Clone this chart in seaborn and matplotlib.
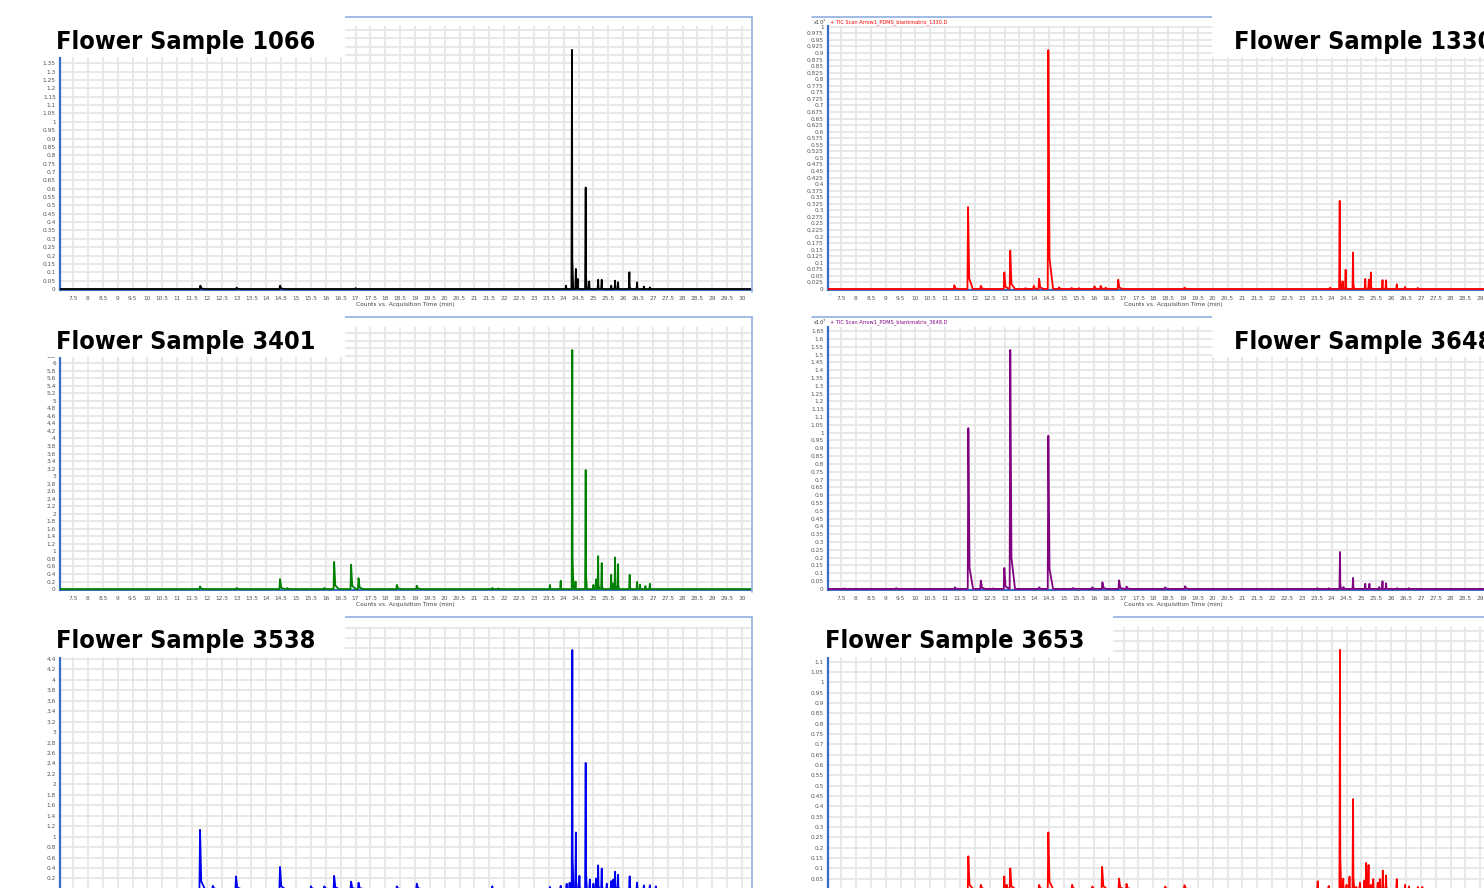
import matplotlib
matplotlib.use("Agg")
import numpy as np
import pandas as pd
import matplotlib.pyplot as plt
from matplotlib import font_manager as fm
from matplotlib.lines import Line2D
from matplotlib.patches import Rectangle
import seaborn as sns

sns.set_style("white")
plt.rcParams["font.family"] = ["DejaVu Sans"]

W, H = 1484, 888
XMIN, XMAX = 7.06, 30.3

# peak retention times (min) and heights (x10^7 counts)
rt_1066 = [11.78, 13.0, 14.46, 17.0, 24.08, 24.28, 24.41, 24.47, 24.74, 24.86,
           25.16, 25.28, 25.6, 25.73, 25.83, 26.21, 26.47, 26.7, 26.9]
ht_1066 = [0.02, 0.008, 0.02, 0.005, 0.02, 1.43, 0.12, 0.06, 0.607, 0.045,
           0.055, 0.055, 0.02, 0.05, 0.04, 0.10, 0.04, 0.015, 0.01]

rt_3401 = [11.77, 13.0, 14.46, 14.7, 15.95, 16.28, 16.85, 17.1, 18.39, 19.06,
           21.6, 21.8, 23.54, 23.9, 24.29, 24.4, 24.74, 25.0, 25.09, 25.16,
           25.28, 25.6, 25.66, 25.73, 25.83, 26.22, 26.47, 26.57, 26.75, 26.9]
ht_3401 = [0.07, 0.03, 0.265, 0.03, 0.03, 0.72, 0.645, 0.29, 0.11, 0.09,
           0.03, 0.02, 0.11, 0.22, 6.35, 0.2, 3.16, 0.11, 0.26, 0.875,
           0.69, 0.38, 0.15, 0.84, 0.66, 0.38, 0.19, 0.12, 0.08, 0.14]

rt_3538 = [11.77, 12.2, 12.98, 14.46, 15.5, 15.95, 16.28, 16.85, 17.1, 18.39,
           19.06, 21.6, 23.54, 23.9, 24.1, 24.2, 24.29, 24.41, 24.53, 24.74,
           24.88, 25.0, 25.09, 25.16, 25.28, 25.45, 25.6, 25.67, 25.73, 25.83,
           26.22, 26.47, 26.7, 26.9, 27.1]
ht_3538 = [1.13, 0.06, 0.24, 0.42, 0.05, 0.05, 0.25, 0.14, 0.12, 0.05,
           0.1, 0.05, 0.04, 0.06, 0.1, 0.12, 4.57, 1.08, 0.25, 2.41,
           0.18, 0.1, 0.2, 0.45, 0.39, 0.1, 0.15, 0.18, 0.33, 0.27,
           0.24, 0.12, 0.07, 0.07, 0.05]

rt_1330 = [11.31, 11.77, 12.2, 12.99, 13.19, 13.7, 13.98, 14.16, 14.47, 14.83,
           15.25, 15.5, 16.02, 16.23, 16.4, 16.82, 19.05, 23.95, 24.27, 24.37,
           24.47, 24.72, 25.13, 25.25, 25.32, 25.71, 25.83, 26.19, 26.47, 26.9]
ht_1330 = [0.014, 0.312, 0.012, 0.063, 0.146, 0.003, 0.012, 0.039, 0.911, 0.006,
           0.004, 0.003, 0.01, 0.012, 0.005, 0.035, 0.005, 0.005, 0.336, 0.029,
           0.073, 0.139, 0.038, 0.035, 0.063, 0.034, 0.033, 0.018, 0.008, 0.004]

rt_3648 = [7.6, 9.35, 11.33, 11.78, 12.2, 12.6, 12.99, 13.19, 14.16, 14.47,
           15.3, 15.95, 16.29, 16.85, 17.1, 18.4, 19.07, 23.52, 23.9, 24.28,
           24.4, 24.72, 25.13, 25.27, 25.6, 25.71, 25.83, 26.2, 26.6]
ht_3648 = [0.003, 0.005, 0.01, 1.029, 0.053, 0.003, 0.134, 1.529, 0.01, 0.98,
           0.006, 0.01, 0.042, 0.055, 0.015, 0.01, 0.017, 0.005, 0.005, 0.236,
           0.012, 0.07, 0.033, 0.033, 0.012, 0.049, 0.036, 0.005, 0.005]

rt_3653 = [11.78, 12.2, 12.99, 13.07, 13.19, 14.16, 14.47, 15.27, 15.95, 16.28,
           16.85, 17.1, 18.4, 19.05, 23.53, 23.9, 24.28, 24.39, 24.5, 24.6,
           24.72, 24.83, 24.95, 25.1, 25.16, 25.24, 25.32, 25.4, 25.55, 25.62,
           25.72, 25.83, 26.19, 26.47, 26.6, 26.9, 27.05]
ht_3653 = [0.158, 0.02, 0.061, 0.02, 0.1, 0.02, 0.274, 0.02, 0.012, 0.107,
           0.05, 0.025, 0.012, 0.018, 0.037, 0.015, 1.157, 0.05, 0.02, 0.06,
           0.435, 0.01, 0.03, 0.04, 0.126, 0.116, 0.02, 0.048, 0.03, 0.048,
           0.089, 0.065, 0.048, 0.02, 0.012, 0.01, 0.01]

# name, times, heights, colour, column, row, y-limits, y tick step
panels = [
    ("1066", rt_1066, ht_1066, "#000000", 0, 0, (-0.006, 1.573), 0.05),
    ("3401", rt_3401, ht_3401, "#008000", 0, 1, (-0.025, 6.96), 0.2),
    ("3538", rt_3538, ht_3538, "#0000ee", 0, 2, (-0.02, 5.01), 0.2),
    ("1330", rt_1330, ht_1330, "#ff0000", 1, 0, (-0.004, 1.003), 0.025),
    ("3648", rt_3648, ht_3648, "#800080", 1, 1, (-0.007, 1.676), 0.05),
    ("3653", rt_3653, ht_3653, "#ff0000", 1, 2, (-0.005, 1.268), 0.05),
]

# pixel geometry of the screenshot
cols = [(60, 751, 58, 752), (828, 1519, 812, 1484)]       # axes l, r, frame l, r
rows = [(17, 26, 290), (317.5, 327, 590), (616.7, 627, 890)]  # frame top, axes top, bottom
FRAME = "#8fb0e0"
SPINE = "#3a6cc0"
TITLE_W = 258  # px width of "Flower Sample NNNN"


def fig_box(l, t, r, b):
    return [l / W, 1 - b / H, (r - l) / W, (b - t) / H]


def peak_trace(rts, hts, rise=0.02, early_tail=0.16, late_tail=0.04, knee=0.13):
    pk = sorted(zip(rts, hts))
    xs, ys = [XMIN], [0.0]
    for i, (t, h) in enumerate(pk):
        tail = early_tail if t < 20 else late_tail
        if i + 1 < len(pk):
            tail = max(0.02, min(tail, pk[i + 1][0] - t - rise))
        xs += [t - rise, t, t + tail * 0.25, t + tail]
        ys += [0.0, h, h * knee, 0.0]
    xs.append(XMAX)
    ys.append(0.0)
    return pd.DataFrame({"time": xs, "counts": ys})


def title_font():
    # look for an installed condensed / narrow bold face
    best, best_score = None, 0
    for f in fm.fontManager.ttflist:
        nm, fn = f.name.lower(), f.fname.lower()
        narrow = ("condensed" in nm or "narrow" in nm or "condensed" in fn
                  or "narrow" in fn or str(f.stretch) in
                  ("condensed", "semi-condensed", "extra-condensed", "ultra-condensed"))
        if not narrow or "semi" in fn or "semi" in str(f.stretch):
            continue
        w = f.weight if isinstance(f.weight, int) else {"bold": 700, "heavy": 800,
                                                        "black": 900}.get(f.weight, 400)
        if "italic" in fn or f.style != "normal":
            continue
        score = 1 + (w >= 700) * 4 + (w == 700) + ("extra" not in fn)
        if score > best_score:
            best, best_score = f, score
    if best is None:
        return fm.FontProperties(family="DejaVu Sans", weight="bold")
    return fm.FontProperties(fname=best.fname)


fig = plt.figure(figsize=(W / 100, H / 100), dpi=100)
renderer = fig.canvas.get_renderer()
tfont = title_font()

for name, rts, hts, color, c, r, ylim, ystep in panels:
    al, ar, fl, fr = cols[c]
    ftop, atop, abot = rows[r]
    ax = fig.add_axes(fig_box(al, atop, ar, abot))

    df = peak_trace(rts, hts)
    sns.lineplot(data=df, x="time", y="counts", ax=ax, color=color, lw=1.3,
                 estimator=None, sort=False, zorder=3)

    ax.set_xlim(XMIN, XMAX)
    ax.set_ylim(*ylim)
    xt = np.arange(7.5, 30.01, 0.5)
    ax.set_xticks(xt)
    yt = np.round(np.arange(0, ylim[1], ystep), 3)
    ax.set_yticks(yt)
    ax.set_yticklabels([f"{v:g}" for v in yt])
    ax.grid(True, color="#e6e6e6", lw=1.3)
    ax.set_axisbelow(True)
    ax.tick_params(axis="both", labelsize=4.2, length=2, width=0.6, pad=1,
                   colors="#555555", direction="out")
    ax.tick_params(axis="x", pad=2)
    ax.set_ylabel("")
    if r < 2:
        ax.set_xticklabels([f"{v:g}" for v in xt])
        ax.set_xlabel("Counts vs. Acquisition Time (min)", fontsize=4.2,
                      color="#444444", labelpad=1)
    else:
        # bottom row is cut at the baseline in the screenshot
        ax.set_xticklabels([])
        ax.set_xlabel("")
        ax.set_yticklabels([""] + [f"{v:g}" for v in yt[1:]])
    for s in ("top", "right"):
        ax.spines[s].set_visible(False)
    ax.spines["left"].set_color(SPINE)
    ax.spines["left"].set_linewidth(1.6)
    ax.spines["bottom"].set_color(SPINE)
    ax.spines["bottom"].set_linewidth(1.4)

    # window frame
    fig.add_artist(Line2D([fl / W, fr / W], [1 - ftop / H] * 2, color=FRAME, lw=1.2))
    if c == 0:
        fig.add_artist(Line2D([fr / W] * 2, [1 - ftop / H, 1 - (abot + 2) / H],
                              color=FRAME, lw=1.2))
    else:
        fig.text(813 / W, 1 - (ftop + 5) / H, r"x10$^7$", fontsize=3.6,
                 color="#333333", va="center")
        fig.text(830 / W, 1 - (ftop + 5) / H,
                 f"+ TIC Scan Arrow1_PDMS_blankmatrix_{name}.D",
                 fontsize=3.6, color=color, va="center")

    # sample title on a white box
    if c == 0:
        bx0, bx1, tx = 0, 345, 56
    elif r < 2:
        bx0, bx1, tx = 1212, 1484, 1234
    else:
        bx0, bx1, tx = 800, 1113, 825
    fig.add_artist(Rectangle((bx0 / W, 1 - (ftop + 40) / H), (bx1 - bx0) / W,
                             43 / H, transform=fig.transFigure,
                             facecolor="white", edgecolor="none", zorder=5))
    t = fig.text(tx / W, 1 - (ftop + 31.5) / H, f"Flower Sample {name}",
                 fontproperties=tfont, fontsize=22, color="black",
                 va="baseline", zorder=6)
    tw = t.get_window_extent(renderer).width
    t.set_fontsize(22 * TITLE_W / tw)

fig.savefig("out.png", dpi=100)
